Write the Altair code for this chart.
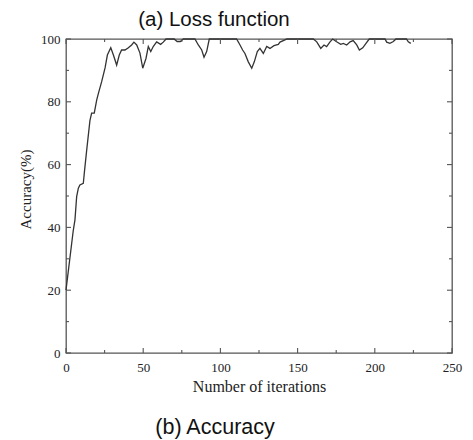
import altair as alt
import pandas as pd

# accuracy curve
iters = [0, 4.7, 5.8, 6.9, 8, 9, 11.2, 12, 13.4, 15.5, 16.6, 18.3, 19.9, 20.9, 23.1, 25.3,
         26.8, 29, 30.7, 32.8, 34.5, 36, 38.2, 40.4, 42.5, 44, 45.8, 47.9, 49.7, 51.8,
         53.3, 54.9, 56.5, 58.7, 61.3, 63, 64.8, 70, 72, 74, 76, 83.5, 85.7, 87.9, 89.4,
         91.1, 92.8, 110.5, 112.7, 114.4, 115.9, 118, 120.3, 122, 123.9, 125.6, 127.8,
         130, 132.1, 134.7, 137.5, 138.6, 141.8, 143, 160.2, 162.4, 165, 167.1, 168.8,
         171, 172.7, 175.3, 177.9, 179.6, 181.8, 184, 186, 188.3, 190, 192.2, 194.3,
         196.4, 206.6, 207.7, 209.8, 212, 213.7, 220.5, 221.7, 223.3]
acc = [20, 39, 42.4, 49.8, 52.5, 53.5, 54, 58, 64.6, 74, 76.4, 76.4, 80.6, 82.5, 86.4, 90.8,
       94.9, 97.2, 94.9, 91.7, 94.9, 96.5, 96.5, 97.2, 98.1, 99, 98.1, 95.5, 90.7, 93.8,
       97.6, 96, 97.6, 99.1, 98.3, 99, 100, 100, 99.2, 99.2, 100, 100, 98.1, 96.5, 94.2,
       96, 100, 100, 98.1, 96.5, 95.4, 92.8, 90.7, 92.8, 96, 97, 95.4,
       97.6, 97, 97.9, 98.3, 99, 99.7, 100, 100, 99.1, 97, 98.1, 97.6,
       99.1, 100, 99.1, 98.3, 98.6, 98.1, 99.1, 99.5, 98.1, 96.5, 97.2, 98.6,
       100, 100, 99, 98.6, 99.2, 100, 100, 99.1, 98.6]

x_major = [0, 50, 100, 150, 200, 250]
x_minor = [25, 75, 125, 175, 225]
y_major = [0, 20, 40, 60, 80, 100]
y_minor = [10, 30, 50, 70, 90]

title_top = "(a) Loss function"
caption_bottom = "(b) Accuracy"
x_title = "Number of iterations"
y_title = "Accuracy(%)"

W, H = 386, 314
FRAME = "#555555"
SERIF = "Liberation Serif"
SANS = "Liberation Sans"

xs = alt.Scale(domain=[0, 250], nice=False, zero=False)
ys = alt.Scale(domain=[0, 100], nice=False, zero=False)

x_axis = alt.Axis(
    values=x_major, title=x_title, ticks=False, domain=False, grid=False,
    labelFont=SERIF, labelFontSize=13, labelColor="#222222", labelPadding=8,
    titleFont=SERIF, titleFontSize=16, titleFontWeight="normal", titleColor="#222222",
    titlePadding=4, labelFlush=False)
y_axis = alt.Axis(
    values=y_major, title=y_title, ticks=False, domain=False, grid=False,
    labelFont=SERIF, labelFontSize=13, labelColor="#222222", labelPadding=6,
    titleFont=SERIF, titleFontSize=15, titleFontWeight="normal", titleColor="#222222",
    titlePadding=7, labelFlush=False, titleY=150)

df = pd.DataFrame({"iter": iters, "acc": acc})

line = alt.Chart(df).mark_line(color="#333333", strokeWidth=1.3).encode(
    x=alt.X("iter:Q", scale=xs, axis=x_axis),
    y=alt.Y("acc:Q", scale=ys, axis=y_axis),
)


def xticks(vals, length):
    d = pd.DataFrame({"t": vals})
    base = alt.Chart(d).mark_rule(color=FRAME, strokeWidth=1.1)
    bottom = base.encode(x=alt.X("t:Q", scale=xs, axis=x_axis), y=alt.value(H), y2=alt.value(H - length))
    top = base.encode(x=alt.X("t:Q", scale=xs, axis=x_axis), y=alt.value(0), y2=alt.value(length))
    return [bottom, top]


def yticks(vals, length):
    d = pd.DataFrame({"t": vals})
    base = alt.Chart(d).mark_rule(color=FRAME, strokeWidth=1.1)
    left = base.encode(y=alt.Y("t:Q", scale=ys, axis=y_axis), x=alt.value(0), x2=alt.value(length))
    right = base.encode(y=alt.Y("t:Q", scale=ys, axis=y_axis), x=alt.value(W), x2=alt.value(W - length))
    return [left, right]


tick_layers = xticks(x_major, 5) + xticks(x_minor, 3) + yticks(y_major, 5) + yticks(y_minor, 3)

caption = alt.Chart(pd.DataFrame({"label": [caption_bottom]})).mark_text(
    font=SANS, fontSize=21.5, color="#111111", align="center", baseline="middle"
).encode(x=alt.value(149), y=alt.value(389), text="label:N")

chart = alt.layer(line, *tick_layers, caption).properties(
    width=W, height=H,
    autosize=alt.AutoSizeParams(type="none"),
    padding={"left": 66, "top": 39, "right": 21, "bottom": 87},
    title=alt.TitleParams(title_top, font=SANS, fontSize=20.5, fontWeight="normal",
                          color="#111111", anchor="middle", dx=-45, offset=3),
).configure_view(stroke=FRAME, strokeWidth=1.3)

chart.save("out.html", embed_options={"renderer": "svg", "actions": False})
